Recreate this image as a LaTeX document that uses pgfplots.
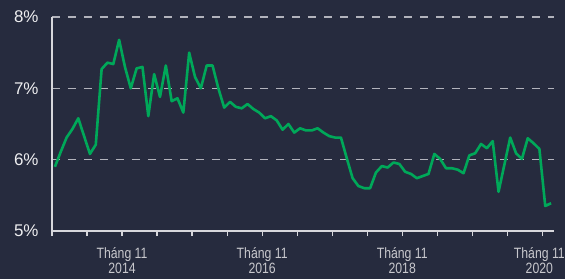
\documentclass[border=0pt]{standalone}
\usepackage{pgfplots}
\pgfplotsset{compat=1.18}
\usepackage{fontspec}
\setmainfont{Liberation Sans}
\newfontfamily\narrowfont[FakeStretch=0.82]{Liberation Sans}
\definecolor{bg}{RGB}{38,43,62}
\definecolor{lgreen}{RGB}{0,168,89}
\definecolor{gridc}{RGB}{178,179,188}
\definecolor{axc}{RGB}{215,215,220}
\definecolor{ylab}{RGB}{238,238,240}
\definecolor{xlab}{RGB}{200,200,205}
\begin{document}
\begin{tikzpicture}
\fill[bg] (-52bp,-48bp) rectangle (513bp,231bp);
\begin{axis}[
  at={(0,0)}, anchor=south west,
  scale only axis, width=502bp, height=214bp,
  xmin=0, xmax=86, ymin=5, ymax=8,
  axis x line*=bottom, axis y line*=left,
  axis line style={-, draw=axc, line width=1.2bp},
  xtick={0,6,...,78},
  xticklabels={{},{},{Tháng 11\\2014},{},{},{},{Tháng 11\\2016},{},{},{},{Tháng 11\\2018},{},{},{}},
  extra x ticks={84},
  extra x tick labels={{Tháng 11\\2020}},
  extra x tick style={xticklabel style={xshift=-3bp}},
  xticklabel style={font=\narrowfont\fontsize{15}{15.5}\selectfont, text=xlab, align=center, yshift=-8bp},
  xtick style={draw=axc, line width=1.2bp},
  tick align=outside, major tick length=5bp,
  ytick={6,7,8},
  yticklabels={6\%,7\%,8\%},
  extra y ticks={5},
  extra y tick labels={5\%},
  extra y tick style={grid=none},
  ytick style={draw=none},
  yticklabel style={font=\fontsize{17}{17}\selectfont, text=ylab, anchor=east, xshift=-5bp},
  ymajorgrids,
  major grid style={draw=gridc, dash pattern=on 8bp off 8bp, line width=1.5bp},
  clip=false,
]
\addplot[lgreen, line width=2.6bp, line join=round] coordinates {
(0.5,5.90) (1.5,6.11) (2.5,6.31) (3.5,6.43) (4.5,6.58) (5.5,6.33) (6.5,6.08) (7.5,6.21)
(8.5,7.27) (9.5,7.36) (10.5,7.34) (11.5,7.68) (12.5,7.30) (13.5,7.00) (14.5,7.28) (15.5,7.30)
(16.5,6.61) (17.5,7.20) (18.5,6.88) (19.5,7.32) (20.5,6.82) (21.5,6.86) (22.5,6.66) (23.5,7.50)
(24.5,7.16) (25.5,7.00) (26.5,7.32) (27.5,7.32) (28.5,7.00) (29.5,6.73) (30.5,6.81) (31.5,6.74)
(32.5,6.72) (33.5,6.78) (34.5,6.71) (35.5,6.66) (36.5,6.58) (37.5,6.61) (38.5,6.55) (39.5,6.42)
(40.5,6.50) (41.5,6.38) (42.5,6.44) (43.5,6.41) (44.5,6.41) (45.5,6.44) (46.5,6.38) (47.5,6.33)
(48.5,6.31) (49.5,6.31) (50.5,6.02) (51.5,5.74) (52.5,5.63) (53.5,5.60) (54.5,5.60) (55.5,5.82)
(56.5,5.91) (57.5,5.89) (58.5,5.96) (59.5,5.94) (60.5,5.83) (61.5,5.80) (62.5,5.74) (63.5,5.77)
(64.5,5.80) (65.5,6.08) (66.5,6.01) (67.5,5.88) (68.5,5.88) (69.5,5.86) (70.5,5.81) (71.5,6.06)
(72.5,6.09) (73.5,6.22) (74.5,6.16) (75.5,6.26) (76.5,5.55) (77.5,5.93) (78.5,6.31) (79.5,6.09)
(80.5,6.01) (81.5,6.30) (82.5,6.23) (83.5,6.15) (84.5,5.35) (85.5,5.39)
};
\end{axis}
\pgfresetboundingbox
\useasboundingbox (-52bp,-48bp) rectangle (513bp,231bp);
\end{tikzpicture}
\end{document}
